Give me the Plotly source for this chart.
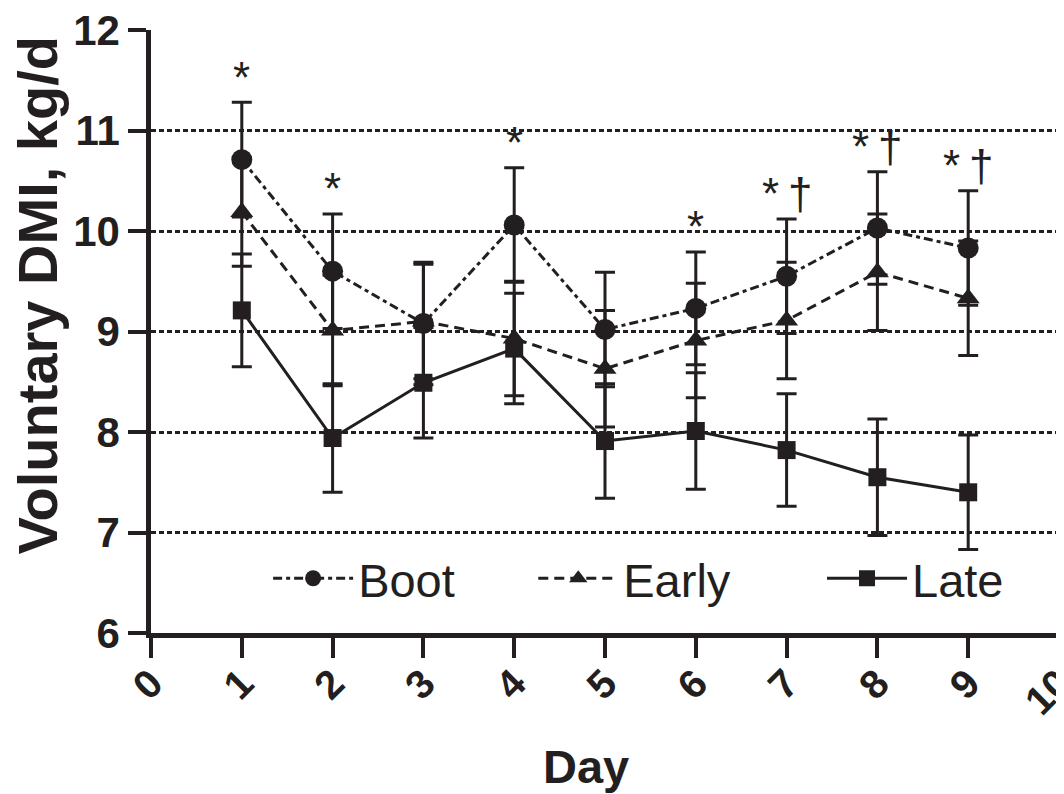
import plotly.graph_objects as go

days = [1, 2, 3, 4, 5, 6, 7, 8, 9]
boot = [10.71, 9.60, 9.08, 10.06, 9.02, 9.23, 9.55, 10.03, 9.83]
boot_se = [0.57, 0.57, 0.61, 0.57, 0.57, 0.56, 0.57, 0.56, 0.57]
early = [10.19, 9.01, 9.10, 8.93, 8.63, 8.91, 9.11, 9.59, 9.33]
early_se = [0.54, 0.55, 0.57, 0.57, 0.58, 0.57, 0.58, 0.58, 0.57]
late = [9.21, 7.94, 8.49, 8.83, 7.91, 8.01, 7.82, 7.55, 7.40]
late_se = [0.56, 0.54, 0.55, 0.55, 0.57, 0.58, 0.56, 0.58, 0.57]
sig = ["*", "*", "", "*", "", "*", "*\u2009\u2020", "*\u2009\u2020", "*\u2009\u2020"]
x_ticks = [0, 1, 2, 3, 4, 5, 6, 7, 8, 9, 10]
y_ticks = [6, 7, 8, 9, 10, 11, 12]

INK = "#231f20"
FONT = "Liberation Sans, Arial, Helvetica, sans-serif"

fig = go.Figure()


def add_series(name, y, se, symbol, dash, legend, msize):
    fig.add_trace(go.Scatter(
        x=days, y=y, name=name, mode="lines+markers",
        line=dict(color=INK, width=3, dash=dash),
        marker=dict(symbol=symbol, size=msize, color=INK),
        error_y=dict(type="data", array=se, visible=True, color=INK,
                     thickness=3, width=10),
        legend=legend, cliponaxis=False,
    ))


add_series("Late", late, late_se, "square", "solid", "legend3", 18)
add_series("Early", early, early_se, "triangle-up", "10px,6px", "legend2", 20)
add_series("Boot", boot, boot_se, "circle", "9px,4px,4px,4px", "legend", 21)

annotations = []
for d, b, s, t in zip(days, boot, boot_se, sig):
    if t:
        annotations.append(dict(
            x=d, y=b + s + 0.25, text=t, showarrow=False,
            xanchor="center", yanchor="middle",
            font=dict(family=FONT, size=44, color=INK),
        ))

# axis titles
annotations.append(dict(
    text="Voluntary DMI, kg/d", textangle=-90, showarrow=False,
    xref="paper", yref="paper", x=-0.126, y=0.5605,
    xanchor="center", yanchor="middle",
    font=dict(family=FONT, size=56, color=INK, weight="bold"),
))
annotations.append(dict(
    text="Day", showarrow=False,
    xref="paper", yref="paper", x=0.479, y=-0.222,
    xanchor="center", yanchor="middle",
    font=dict(family=FONT, size=47, color=INK, weight="bold"),
))

legend_common = dict(
    orientation="h", bgcolor="rgba(0,0,0,0)", itemwidth=80,
    font=dict(family=FONT, size=47, color=INK),
    xref="paper", yref="paper", yanchor="middle", y=0.09,
    itemclick=False, itemdoubleclick=False,
)

fig.update_layout(
    width=1056, height=786,
    margin=dict(l=143, r=5, t=22, b=161),
    paper_bgcolor="white", plot_bgcolor="white",
    showlegend=True,
    annotations=annotations,
    legend=dict(x=0.129, xanchor="left", **legend_common),
    legend2=dict(x=0.421, xanchor="left", **legend_common),
    legend3=dict(x=0.739, xanchor="left", **legend_common),
    xaxis=dict(
        range=[0, 10], tickvals=x_ticks, ticktext=[str(v) for v in x_ticks],
        tickangle=-45, ticks="outside", ticklen=20, tickwidth=4, tickcolor=INK,
        showline=True, linewidth=4.5, linecolor=INK, showgrid=False,
        zeroline=False, automargin=False, ticklabeloverflow="allow",
        ticklabelstandoff=-14,
        tickfont=dict(family=FONT, size=40, color=INK, weight="bold"),
    ),
    yaxis=dict(
        range=[6, 12], tickvals=y_ticks, ticktext=[str(v) for v in y_ticks],
        ticks="outside", ticklen=18, tickwidth=4, tickcolor=INK,
        showline=True, linewidth=4.5, linecolor=INK,
        showgrid=True, gridcolor=INK, gridwidth=2.5, griddash="5px,3px",
        zeroline=False, automargin=False, ticklabeloverflow="allow",
        tickfont=dict(family=FONT, size=42, color=INK, weight="bold"),
    ),
)

fig.write_html("out.html")
